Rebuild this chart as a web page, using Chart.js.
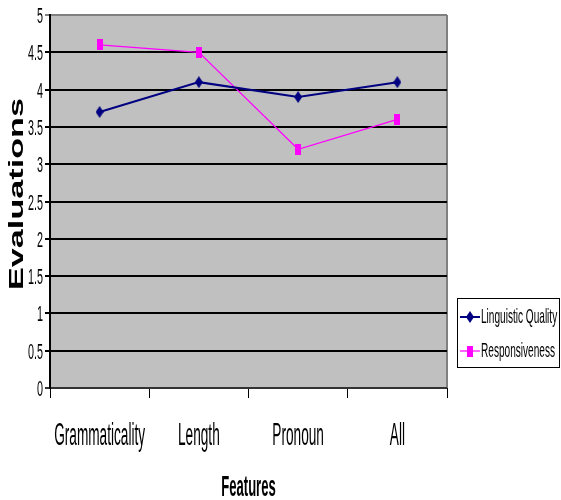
<!DOCTYPE html>
<html lang="en">
<head>
    <meta charset="UTF-8">
    <title>Evaluations by Feature</title>
    <script src="https://cdn.jsdelivr.net/npm/chart.js"></script>
    <style>
        body { margin: 0; background: #ffffff; }
        #chart { display: block; }
    </style>
</head>
<body>
    <canvas id="chart" width="561" height="500"></canvas>

    <script>
        // Chart data
        const features = ['Grammaticality', 'Length', 'Pronoun', 'All'];
        const linguisticQuality = [3.7, 4.1, 3.9, 4.1];
        const responsiveness = [4.6, 4.5, 3.2, 3.6];
        const yTicks = [0, 0.5, 1, 1.5, 2, 2.5, 3, 3.5, 4, 4.5, 5];

        const FONT = '"Liberation Sans", Arial, sans-serif';

        // Marker images (thin diamond and tall rectangle)
        function makeDiamond(color) {
            const c = document.createElement('canvas');
            c.width = 8; c.height = 12;
            const g = c.getContext('2d');
            g.fillStyle = color;
            g.beginPath();
            g.moveTo(4, 0); g.lineTo(8, 6); g.lineTo(4, 12); g.lineTo(0, 6);
            g.closePath();
            g.fill();
            return c;
        }
        function makeRect(color) {
            const c = document.createElement('canvas');
            c.width = 6; c.height = 11;
            const g = c.getContext('2d');
            g.fillStyle = color;
            g.fillRect(0, 0, 6, 11);
            return c;
        }

        // Draws text compressed horizontally, like the original picture
        function squashText(ctx, text, x, y, font, sx, align) {
            ctx.save();
            ctx.font = font;
            ctx.fillStyle = '#000000';
            ctx.textAlign = align;
            ctx.textBaseline = 'alphabetic';
            ctx.translate(x, y);
            ctx.scale(sx, 1);
            ctx.fillText(text, 0, 0);
            ctx.restore();
        }

        const plotBackground = {
            id: 'plotBackground',
            beforeDraw(chart) {
                const { ctx, chartArea: a } = chart;
                ctx.save();
                ctx.fillStyle = '#C0C0C0';
                ctx.fillRect(a.left, a.top, a.right - a.left, a.bottom - a.top);
                ctx.strokeStyle = '#808080';
                ctx.lineWidth = 2;
                ctx.beginPath();
                ctx.moveTo(a.right, a.top);
                ctx.lineTo(a.right, a.bottom);
                ctx.stroke();
                ctx.restore();
            }
        };

        const textLayer = {
            id: 'textLayer',
            afterDraw(chart) {
                const ctx = chart.ctx;
                const x = chart.scales.x, y = chart.scales.y;

                // y tick labels
                yTicks.forEach(v => {
                    squashText(ctx, String(v), 43, y.getPixelForValue(v) + 8, '22px ' + FONT, 0.49, 'right');
                });
                // x tick labels
                features.forEach((f, i) => {
                    squashText(ctx, f, x.getPixelForValue(i), 445, '31px ' + FONT, 0.44, 'center');
                });
                // axis titles
                squashText(ctx, 'Features', (chart.chartArea.left + chart.chartArea.right) / 2, 496, 'bold 29px ' + FONT, 0.45, 'center');
                ctx.save();
                ctx.translate(23, 194);
                ctx.rotate(-Math.PI / 2);
                ctx.scale(1.71, 1);
                ctx.font = 'bold 20px ' + FONT;
                ctx.fillStyle = '#000000';
                ctx.textAlign = 'center';
                ctx.textBaseline = 'alphabetic';
                ctx.fillText('Evaluations', 0, 0);
                ctx.restore();

                // legend
                ctx.save();
                ctx.fillStyle = '#ffffff';
                ctx.fillRect(457, 298, 103, 70);
                ctx.strokeStyle = '#000000';
                ctx.lineWidth = 1;
                ctx.strokeRect(457.5, 298.5, 102, 69);
                ctx.restore();
                const rows = [317, 351];
                chart.data.datasets.forEach((ds, i) => {
                    const ry = rows[i];
                    ctx.save();
                    ctx.strokeStyle = ds.borderColor;
                    ctx.lineWidth = ds.borderWidth;
                    ctx.beginPath();
                    ctx.moveTo(460, ry);
                    ctx.lineTo(480, ry);
                    ctx.stroke();
                    const img = ds.pointStyle;
                    ctx.drawImage(img, 470 - img.width / 2, ry - img.height / 2);
                    ctx.restore();
                    squashText(ctx, ds.label, 481, ry + 6, '21px ' + FONT, 0.48, 'left');
                });
            }
        };

        new Chart(document.getElementById('chart'), {
            type: 'line',
            data: {
                labels: features,
                datasets: [
                    {
                        label: 'Linguistic Quality',
                        data: linguisticQuality,
                        borderColor: '#000080',
                        backgroundColor: '#000080',
                        borderWidth: 2,
                        pointStyle: makeDiamond('#000080'),
                        tension: 0
                    },
                    {
                        label: 'Responsiveness',
                        data: responsiveness,
                        borderColor: '#FF00FF',
                        backgroundColor: '#FF00FF',
                        borderWidth: 1.2,
                        pointStyle: makeRect('#FF00FF'),
                        tension: 0
                    }
                ]
            },
            options: {
                responsive: false,
                animation: false,
                events: [],
                layout: { padding: { top: 15, right: 114, bottom: 0, left: 0 } },
                plugins: {
                    legend: { display: false },
                    tooltip: { enabled: false }
                },
                scales: {
                    x: {
                        offset: true,
                        grid: {
                            offset: true,
                            drawOnChartArea: false,
                            drawTicks: true,
                            tickLength: 10,
                            color: '#000000',
                            lineWidth: 1
                        },
                        border: { display: false },
                        ticks: { display: false },
                        afterFit: s => { s.height = 112; }
                    },
                    y: {
                        min: 0,
                        max: 5,
                        ticks: { display: false, stepSize: 0.5 },
                        grid: {
                            color: c => c.tick && c.tick.value === 5 ? '#808080' : (c.tick && c.tick.value === 0 ? '#333333' : '#000000'),
                            lineWidth: 2,
                            tickLength: 5
                        },
                        border: { color: '#000000', width: 2 },
                        afterFit: s => { s.width = 50; }
                    }
                }
            },
            plugins: [plotBackground, textLayer]
        });
    </script>
</body>
</html>
